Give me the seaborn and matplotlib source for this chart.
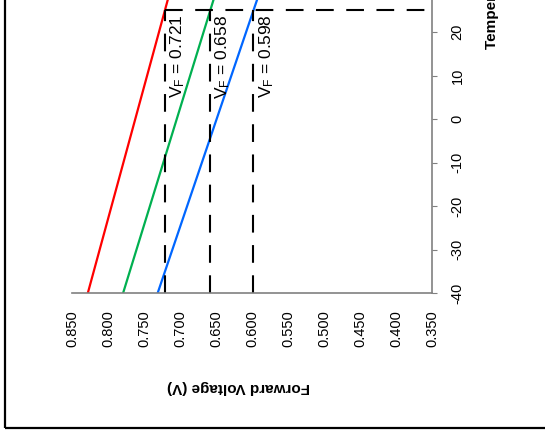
import matplotlib
matplotlib.use("Agg")
import matplotlib.pyplot as plt
from matplotlib.patches import Rectangle
from matplotlib.ticker import FormatStrFormatter
import seaborn as sns
import pandas as pd

# data
temperature = [-40, 25, 30]
vf_high = [0.828, 0.721, 0.7128]
vf_mid = [0.779, 0.658, 0.6487]
vf_low = [0.731, 0.598, 0.5877]
series_names = ["high", "mid", "low"]
series_colors = ["#FF0000", "#00B050", "#0066FF"]

ref_temp = 25
vf_at_ref = [0.721, 0.658, 0.598]

x_ticks = [0.850, 0.800, 0.750, 0.700, 0.650, 0.600, 0.550, 0.500, 0.450, 0.400, 0.350]
y_ticks = [-40, -30, -20, -10, 0, 10, 20]

sns.set_theme(style="white")
plt.rcParams["font.family"] = ["Liberation Sans", "DejaVu Sans"]
plt.rcParams["mathtext.fontset"] = "custom"
plt.rcParams["mathtext.rm"] = "Liberation Sans"
plt.rcParams["axes.unicode_minus"] = False
plt.rcParams["text.color"] = "black"

df = pd.DataFrame({
    "T": temperature * 3,
    "VF": vf_high + vf_mid + vf_low,
    "series": [s for s in series_names for _ in temperature],
})

fig = plt.figure(figsize=(5.45, 4.40), dpi=100)
ax = fig.add_axes([72 / 545, 147 / 440, 360 / 545, 293 / 440])

sns.lineplot(data=df, x="VF", y="T", hue="series", palette=series_colors,
             sort=False, estimator=None, lw=1.6, legend=False, ax=ax)

# reference dashed lines at 25 C
dash = (0, (8.5, 6))
ax.vlines(vf_at_ref, -40, ref_temp, colors="black", lw=1.5, linestyles=dash)
ax.hlines(ref_temp, max(vf_at_ref), x_ticks[-1], colors="black", lw=1.5, linestyles=dash)
for v in vf_at_ref:
    ax.annotate(r"$\mathrm{V_F}$ = " + f"{v:.3f}", xy=(v, ref_temp), xytext=(2.5, -3),
                textcoords="offset points", rotation=90, ha="left", va="top",
                fontsize=12.5, color="black")

ax.set_xlim(x_ticks[0], x_ticks[-1])
ax.set_ylim(-40, 27.4)
ax.set_xticks(x_ticks)
ax.set_yticks(y_ticks)
ax.xaxis.set_major_formatter(FormatStrFormatter("%.3f"))
ax.set_xlabel("")
ax.set_ylabel("")

ax.yaxis.tick_right()
for s in ["top", "left"]:
    ax.spines[s].set_visible(False)
for s in ["bottom", "right"]:
    ax.spines[s].set_color("#808080")
    ax.spines[s].set_linewidth(1.2)
ax.tick_params(axis="both", direction="out", length=3.5, width=0.8, color="#808080",
               labelsize=10.5, labelcolor="black")
ax.tick_params(axis="x", pad=9, labelrotation=90)
ax.tick_params(axis="y", pad=10, labelrotation=90)
for lab in ax.get_yticklabels():
    lab.set_va("center")

fig.text(239 / 545, 1 - 387 / 440, "Forward Voltage (V)", rotation=180,
         ha="center", va="center", fontsize=11, fontweight="bold", color="black")
fig.text(492 / 545, 1 - 49 / 440, "Temperature (°C)", rotation=90,
         ha="center", va="bottom", fontsize=11, fontweight="bold", color="black")

fig.patches.append(Rectangle((5 / 545, 12.5 / 440), 1.2, 1.2, transform=fig.transFigure,
                             fill=False, edgecolor="black", lw=1.6))

fig.savefig("out.png", dpi=100)
plt.close(fig)
